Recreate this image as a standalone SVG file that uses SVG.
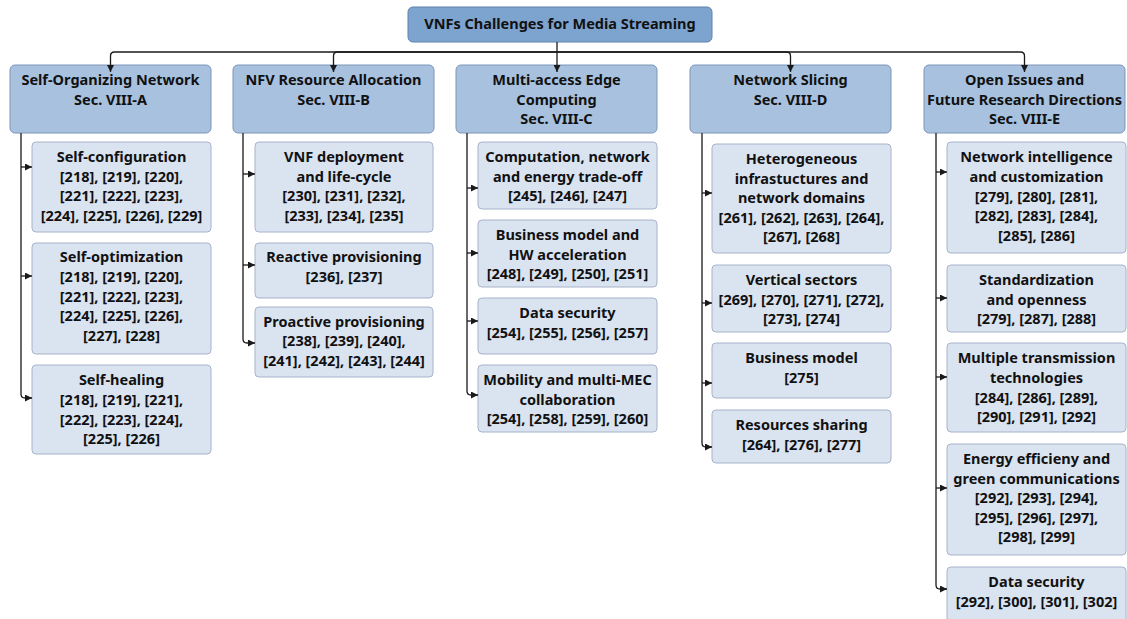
<svg xmlns="http://www.w3.org/2000/svg" width="1127" height="619" viewBox="0 0 1127 619">
  <style>
    .t{font-family:"Noto Sans","Open Sans","DejaVu Sans",sans-serif;font-weight:700;font-size:14.5px;fill:#111;text-anchor:middle}
    .root{fill:#7da3cf;stroke:#5e82ac;stroke-width:1}
    .hdr{fill:#a8c1df;stroke:#7d96b8;stroke-width:1}
    .leaf{fill:#dae3f0;stroke:#a7b4ca;stroke-width:1}
    .wire{fill:none;stroke:#1a1a1a;stroke-width:1.3}
  </style>
  <defs>
    <marker id="ah" markerUnits="userSpaceOnUse" markerWidth="7" markerHeight="7" refX="7" refY="3.5" orient="auto">
      <path d="M0,0 L7,3.5 L0,7 z" fill="#1a1a1a"/>
    </marker>
  </defs>
  <rect width="1127" height="619" fill="#ffffff"/>

  <!-- root -->
  <g id="root">
    <rect class="root" x="408" y="7" width="304" height="35" rx="5"/>
    <text class="t" x="560" y="29">VNFs Challenges for Media Streaming</text>
  </g>

  <!-- section headers -->
  <g id="sec-a">
    <rect class="hdr" x="10" y="65" width="201" height="68" rx="5"/>
    <text class="t"><tspan x="110.5" y="85">Self-Organizing Network</tspan><tspan x="110.5" y="104.5">Sec. VIII-A</tspan></text>
  </g>
  <g id="sec-b">
    <rect class="hdr" x="233" y="65" width="201" height="68" rx="5"/>
    <text class="t"><tspan x="333.5" y="85">NFV Resource Allocation</tspan><tspan x="333.5" y="104.5">Sec. VIII-B</tspan></text>
  </g>
  <g id="sec-c">
    <rect class="hdr" x="456" y="65" width="201" height="68" rx="5"/>
    <text class="t"><tspan x="556.5" y="85">Multi-access Edge</tspan><tspan x="556.5" y="104.5">Computing</tspan><tspan x="556.5" y="124">Sec. VIII-C</tspan></text>
  </g>
  <g id="sec-d">
    <rect class="hdr" x="690" y="65" width="201" height="68" rx="5"/>
    <text class="t"><tspan x="790.5" y="85">Network Slicing</tspan><tspan x="790.5" y="104.5">Sec. VIII-D</tspan></text>
  </g>
  <g id="sec-e">
    <rect class="hdr" x="924" y="65" width="201" height="68" rx="5"/>
    <text class="t"><tspan x="1024.5" y="85">Open Issues and</tspan><tspan x="1024.5" y="104.5">Future Research Directions</tspan><tspan x="1024.5" y="124">Sec. VIII-E</tspan></text>
  </g>

  <!-- Sec. VIII-A topics -->
  <g id="a1">
    <rect class="leaf" x="32" y="142" width="179" height="90" rx="4"/>
    <text class="t"><tspan x="121.5" y="162">Self-configuration</tspan><tspan x="121.5" y="181.5">[218], [219], [220],</tspan><tspan x="121.5" y="201">[221], [222], [223],</tspan><tspan x="121.5" y="220.5">[224], [225], [226], [229]</tspan></text>
  </g>
  <g id="a2">
    <rect class="leaf" x="32" y="243" width="179" height="111" rx="4"/>
    <text class="t"><tspan x="121.5" y="262">Self-optimization</tspan><tspan x="121.5" y="282">[218], [219], [220],</tspan><tspan x="121.5" y="301.5">[221], [222], [223],</tspan><tspan x="121.5" y="321">[224], [225], [226],</tspan><tspan x="121.5" y="341">[227], [228]</tspan></text>
  </g>
  <g id="a3">
    <rect class="leaf" x="32" y="365" width="179" height="89" rx="4"/>
    <text class="t"><tspan x="121.5" y="385">Self-healing</tspan><tspan x="121.5" y="405">[218], [219], [221],</tspan><tspan x="121.5" y="424.5">[222], [223], [224],</tspan><tspan x="121.5" y="444">[225], [226]</tspan></text>
  </g>

  <!-- Sec. VIII-B topics -->
  <g id="b1">
    <rect class="leaf" x="255" y="142" width="178" height="90" rx="4"/>
    <text class="t"><tspan x="344" y="162">VNF deployment</tspan><tspan x="344" y="181.5">and life-cycle</tspan><tspan x="344" y="201">[230], [231], [232],</tspan><tspan x="344" y="220.5">[233], [234], [235]</tspan></text>
  </g>
  <g id="b2">
    <rect class="leaf" x="255" y="243" width="178" height="55" rx="4"/>
    <text class="t"><tspan x="344" y="262">Reactive provisioning</tspan><tspan x="344" y="282">[236], [237]</tspan></text>
  </g>
  <g id="b3">
    <rect class="leaf" x="255" y="307" width="178" height="70" rx="4"/>
    <text class="t"><tspan x="344" y="327">Proactive provisioning</tspan><tspan x="344" y="346">[238], [239], [240],</tspan><tspan x="344" y="366">[241], [242], [243], [244]</tspan></text>
  </g>

  <!-- Sec. VIII-C topics -->
  <g id="c1">
    <rect class="leaf" x="478" y="142" width="179" height="67" rx="4"/>
    <text class="t"><tspan x="567.5" y="162">Computation, network</tspan><tspan x="567.5" y="181.5">and energy trade-off</tspan><tspan x="567.5" y="201">[245], [246], [247]</tspan></text>
  </g>
  <g id="c2">
    <rect class="leaf" x="478" y="220" width="179" height="67" rx="4"/>
    <text class="t"><tspan x="567.5" y="240">Business model and</tspan><tspan x="567.5" y="259.5">HW acceleration</tspan><tspan x="567.5" y="279">[248], [249], [250], [251]</tspan></text>
  </g>
  <g id="c3">
    <rect class="leaf" x="478" y="298" width="179" height="56" rx="4"/>
    <text class="t"><tspan x="567.5" y="318">Data security</tspan><tspan x="567.5" y="338">[254], [255], [256], [257]</tspan></text>
  </g>
  <g id="c4">
    <rect class="leaf" x="478" y="365" width="179" height="67" rx="4"/>
    <text class="t"><tspan x="567.5" y="385">Mobility and multi-MEC</tspan><tspan x="567.5" y="404.5">collaboration</tspan><tspan x="567.5" y="424">[254], [258], [259], [260]</tspan></text>
  </g>

  <!-- Sec. VIII-D topics -->
  <g id="d1">
    <rect class="leaf" x="712" y="144" width="179" height="109" rx="4"/>
    <text class="t"><tspan x="801.5" y="164">Heterogeneous</tspan><tspan x="801.5" y="183.5">infrastuctures and</tspan><tspan x="801.5" y="203">network domains</tspan><tspan x="801.5" y="222.5">[261], [262], [263], [264],</tspan><tspan x="801.5" y="242">[267], [268]</tspan></text>
  </g>
  <g id="d2">
    <rect class="leaf" x="712" y="265" width="179" height="67" rx="4"/>
    <text class="t"><tspan x="801.5" y="285">Vertical sectors</tspan><tspan x="801.5" y="304.5">[269], [270], [271], [272],</tspan><tspan x="801.5" y="324">[273], [274]</tspan></text>
  </g>
  <g id="d3">
    <rect class="leaf" x="712" y="343" width="179" height="55" rx="4"/>
    <text class="t"><tspan x="801.5" y="363">Business model</tspan><tspan x="801.5" y="382.5">[275]</tspan></text>
  </g>
  <g id="d4">
    <rect class="leaf" x="712" y="410" width="179" height="53" rx="4"/>
    <text class="t"><tspan x="801.5" y="430">Resources sharing</tspan><tspan x="801.5" y="450">[264], [276], [277]</tspan></text>
  </g>

  <!-- Sec. VIII-E topics -->
  <g id="e1">
    <rect class="leaf" x="947" y="142" width="179" height="111" rx="4"/>
    <text class="t"><tspan x="1036.5" y="162">Network intelligence</tspan><tspan x="1036.5" y="182">and customization</tspan><tspan x="1036.5" y="202">[279], [280], [281],</tspan><tspan x="1036.5" y="221">[282], [283], [284],</tspan><tspan x="1036.5" y="241">[285], [286]</tspan></text>
  </g>
  <g id="e2">
    <rect class="leaf" x="947" y="265" width="179" height="67" rx="4"/>
    <text class="t"><tspan x="1036.5" y="285">Standardization</tspan><tspan x="1036.5" y="304.5">and openness</tspan><tspan x="1036.5" y="324">[279], [287], [288]</tspan></text>
  </g>
  <g id="e3">
    <rect class="leaf" x="947" y="343" width="179" height="89" rx="4"/>
    <text class="t"><tspan x="1036.5" y="363">Multiple transmission</tspan><tspan x="1036.5" y="383">technologies</tspan><tspan x="1036.5" y="403">[284], [286], [289],</tspan><tspan x="1036.5" y="422">[290], [291], [292]</tspan></text>
  </g>
  <g id="e4">
    <rect class="leaf" x="947" y="444" width="179" height="111" rx="4"/>
    <text class="t"><tspan x="1036.5" y="464">Energy efficieny and</tspan><tspan x="1036.5" y="483.5">green communications</tspan><tspan x="1036.5" y="503">[292], [293], [294],</tspan><tspan x="1036.5" y="522.5">[295], [296], [297],</tspan><tspan x="1036.5" y="542">[298], [299]</tspan></text>
  </g>
  <g id="e5">
    <rect class="leaf" x="947" y="567" width="179" height="56" rx="4"/>
    <text class="t"><tspan x="1036.5" y="587">Data security</tspan><tspan x="1036.5" y="606.5">[292], [300], [301], [302]</tspan></text>
  </g>

  <!-- connectors -->
  <g id="connectors" class="wire">
    <!-- root to sections -->
    <path d="M557,42 V72" marker-end="url(#ah)"/>
    <path d="M557,52 H114.5 Q110.5,52 110.5,56 V72" marker-end="url(#ah)"/>
    <path d="M557,52 H337.5 Q333.5,52 333.5,56 V72" marker-end="url(#ah)"/>
    <path d="M557,52 H786.5 Q790.5,52 790.5,56 V72" marker-end="url(#ah)"/>
    <path d="M557,52 H1020.5 Q1024.5,52 1024.5,56 V72" marker-end="url(#ah)"/>

    <!-- Sec. VIII-A -->
    <path d="M21,133 V394 Q21,398 25,398 H32" marker-end="url(#ah)"/>
    <path d="M21,167 H32" marker-end="url(#ah)"/>
    <path d="M21,276 H32" marker-end="url(#ah)"/>

    <!-- Sec. VIII-B -->
    <path d="M243,133 V339 Q243,343 247,343 H255" marker-end="url(#ah)"/>
    <path d="M243,174 H255" marker-end="url(#ah)"/>
    <path d="M243,265 H255" marker-end="url(#ah)"/>

    <!-- Sec. VIII-C -->
    <path d="M467,133 V391 Q467,395 471,395 H478" marker-end="url(#ah)"/>
    <path d="M467,188 H478" marker-end="url(#ah)"/>
    <path d="M467,253 H478" marker-end="url(#ah)"/>
    <path d="M467,321 H478" marker-end="url(#ah)"/>

    <!-- Sec. VIII-D -->
    <path d="M702,133 V443 Q702,447 706,447 H712" marker-end="url(#ah)"/>
    <path d="M702,193 H712" marker-end="url(#ah)"/>
    <path d="M702,303 H712" marker-end="url(#ah)"/>
    <path d="M702,383 H712" marker-end="url(#ah)"/>

    <!-- Sec. VIII-E -->
    <path d="M936,133 V585 Q936,589 940,589 H947" marker-end="url(#ah)"/>
    <path d="M936,172 H947" marker-end="url(#ah)"/>
    <path d="M936,298 H947" marker-end="url(#ah)"/>
    <path d="M936,377 H947" marker-end="url(#ah)"/>
    <path d="M936,488 H947" marker-end="url(#ah)"/>
  </g>
</svg>
